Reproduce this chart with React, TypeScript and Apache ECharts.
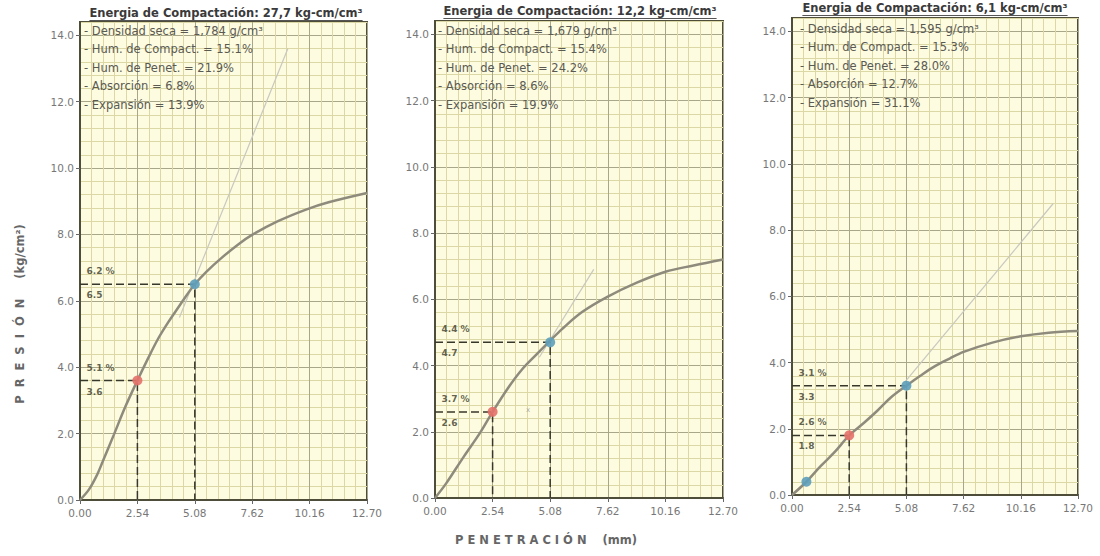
import React, { useEffect, useRef } from "react";
import * as echarts from "echarts";

// ---------- data ----------
const X_TICKS = [0, 2.54, 5.08, 7.62, 10.16, 12.7];
const Y_TICKS = [0, 2, 4, 6, 8, 10, 12, 14];

const TITLES = [
  "Energia de Compactación: 27,7 kg-cm/cm³",
  "Energia de Compactación: 12,2 kg-cm/cm³",
  "Energia de Compactación: 6,1 kg-cm/cm³",
];
const DENSIDAD = ["1,784", "1,679", "1,595"];
const HUM_COMPACT = ["15.1", "15.4", "15.3"];
const HUM_PENET = ["21.9", "24.2", "28.0"];
const ABSORCION = ["6.8", "8.6", "12.7"];
const EXPANSION = ["13.9", "19.9", "31.1"];

const CURVE_1 = [
  [0, 0], [0.4, 0.32], [0.75, 0.75], [1.0, 1.15], [1.5, 1.97], [2.0, 2.8], [2.54, 3.6],
  [3.0, 4.25], [3.45, 4.85], [3.9, 5.35], [4.4, 5.85], [4.75, 6.2], [5.08, 6.5],
  [5.6, 6.88], [6.24, 7.28], [7.0, 7.7], [7.65, 8.0], [8.76, 8.4], [10.0, 8.75],
  [11.0, 8.97], [12.7, 9.25],
];
const CURVE_2 = [
  [0, 0], [0.5, 0.45], [1.27, 1.25], [2.0, 1.98], [2.54, 2.6], [3.2, 3.3], [3.8, 3.85],
  [4.5, 4.35], [5.08, 4.75], [5.6, 5.1], [6.5, 5.62], [7.62, 6.08], [8.9, 6.5],
  [10.16, 6.83], [11.4, 7.02], [12.7, 7.2],
];
const CURVE_3 = [
  [0, 0], [0.64, 0.4], [1.27, 0.87], [1.9, 1.3], [2.54, 1.8], [3.2, 2.18], [3.8, 2.55],
  [4.4, 2.95], [5.08, 3.3], [5.7, 3.6], [6.35, 3.89], [7.0, 4.12], [7.62, 4.32],
  [8.9, 4.6], [10.16, 4.79], [11.4, 4.9], [12.7, 4.95],
];
const CURVES = [CURVE_1, CURVE_2, CURVE_3];

const TANGENT_1 = [[4.4, 5.5], [9.2, 13.6]];
const TANGENT_2 = [[4.6, 4.25], [7.0, 6.9]];
const TANGENT_3 = [[5.0, 3.4], [11.6, 8.8]];
const TANGENTS = [TANGENT_1, TANGENT_2, TANGENT_3];

const PRES_254 = [3.6, 2.6, 1.8];
const PRES_508 = [6.5, 4.7, 3.3];
const CBR_254 = ["5.1", "3.7", "2.6"];
const CBR_508 = ["6.2", "4.4", "3.1"];
const EXTRA_BLUE_3 = [[0.64, 0.4]];
const STRAY_MARK_2 = [[4.1, 2.66]];

// ---------- styling / layout ----------
const FONT = '"DejaVu Sans", Verdana, sans-serif';
const GRIDS = [
  { left: 80, top: 22, width: 287, height: 478 },
  { left: 435, top: 21, width: 288, height: 477 },
  { left: 792, top: 18, width: 286, height: 477 },
];
const TITLE_POS = [
  { cx: 226, y: 13 },
  { cx: 580, y: 11 },
  { cx: 935, y: 8 },
];
const LEGEND_POS = [
  { x: 84, y: 31 },
  { x: 438, y: 31 },
  { x: 800, y: 29 },
];
const BG = "#fdfbe0";
const MAJOR = "#a8a78a";
const MINOR = "#dcd8a6";
const FRAME = "#4d4d3a";
const RED = "#e4716a";
const BLUE = "#5d9ebb";

export default function App() {
  const ref = useRef<HTMLDivElement>(null);

  useEffect(() => {
    if (!ref.current) return;
    const chart = echarts.init(ref.current, null, { renderer: "svg" });

    const canvas = document.createElement("canvas");
    const ctx = canvas.getContext("2d")!;
    const titleFont = `bold 11.5px ${FONT}`;
    ctx.font = titleFont;

    const xAxis: any[] = [];
    const yAxis: any[] = [];
    const series: any[] = [];
    const graphic: any[] = [];

    // primary axes: fine grid (0.508 mm / 0.4 kg/cm²)
    [0, 1, 2].forEach((i) => {
      xAxis.push({
        gridIndex: i,
        type: "value",
        min: 0,
        max: 12.7,
        interval: 0.508,
        axisLine: { show: true, onZero: false, lineStyle: { color: FRAME, width: 2 } },
        axisTick: { show: false },
        axisLabel: { show: false },
        splitLine: { show: true, lineStyle: { color: [MAJOR, MINOR, MINOR, MINOR, MINOR], width: 1 } },
      });
      yAxis.push({
        gridIndex: i,
        type: "value",
        min: 0,
        max: 14.4,
        interval: 0.4,
        axisLine: { show: true, onZero: false, lineStyle: { color: FRAME, width: 2 } },
        axisTick: { show: false },
        axisLabel: { show: false },
        splitLine: { show: true, lineStyle: { color: [MAJOR, MINOR, MINOR, MINOR, MINOR], width: 1 } },
      });
    });
    // secondary axes: labels and major ticks
    [0, 1, 2].forEach((i) => {
      xAxis.push({
        gridIndex: i,
        type: "value",
        position: "bottom",
        offset: 0,
        min: 0,
        max: 12.7,
        interval: 2.54,
        axisLine: { show: false, onZero: false },
        axisTick: { show: true, customValues: X_TICKS, length: 4, lineStyle: { color: "#666" } },
        axisLabel: {
          customValues: X_TICKS,
          formatter: (v: number) => v.toFixed(2),
          color: "#777",
          fontSize: 10.5,
          fontFamily: FONT,
          margin: 7,
        },
        splitLine: { show: false },
      });
      yAxis.push({
        gridIndex: i,
        type: "value",
        position: "left",
        offset: 0,
        min: 0,
        max: 14.4,
        interval: 2,
        axisLine: { show: false, onZero: false },
        axisTick: { show: true, customValues: Y_TICKS, length: 4, lineStyle: { color: "#666" } },
        axisLabel: {
          customValues: Y_TICKS,
          formatter: (v: number) => v.toFixed(1),
          color: "#777",
          fontSize: 10.5,
          fontFamily: FONT,
          margin: 6,
        },
        splitLine: { show: false },
      });
    });

    [0, 1, 2].forEach((i) => {
      series.push({
        type: "line",
        xAxisIndex: i,
        yAxisIndex: i,
        data: CURVES[i],
        smooth: 0.35,
        showSymbol: false,
        lineStyle: { color: "#8e8b7c", width: 2.5 },
        z: 4,
      });
      series.push({
        type: "line",
        xAxisIndex: i,
        yAxisIndex: i,
        data: TANGENTS[i],
        showSymbol: false,
        lineStyle: { color: "#c8c8be", width: 1.2 },
        z: 3,
      });
      series.push({
        type: "line",
        xAxisIndex: i,
        yAxisIndex: i,
        data: [[0, PRES_508[i]], [5.08, PRES_508[i]], [5.08, 0]],
        showSymbol: false,
        lineStyle: { color: "#38382a", width: 1.5, type: [8, 4] },
        z: 3,
      });
      series.push({
        type: "line",
        xAxisIndex: i,
        yAxisIndex: i,
        data: [[0, PRES_254[i]], [2.54, PRES_254[i]], [2.54, 0]],
        showSymbol: false,
        lineStyle: { color: "#38382a", width: 1.5, type: [8, 4] },
        z: 3,
      });
      series.push({
        type: "scatter",
        xAxisIndex: i,
        yAxisIndex: i,
        data: [[2.54, PRES_254[i]]],
        symbolSize: 10,
        itemStyle: { color: RED, opacity: 0.9 },
        z: 6,
      });
      series.push({
        type: "scatter",
        xAxisIndex: i,
        yAxisIndex: i,
        data: i === 2 ? [[5.08, PRES_508[i]], ...EXTRA_BLUE_3] : [[5.08, PRES_508[i]]],
        symbolSize: 10,
        itemStyle: { color: BLUE, opacity: 0.9 },
        z: 6,
      });
      const lab = (txt: string, dy: number) => ({
        show: true,
        formatter: txt,
        position: [7, dy],
        color: "#3a3a2a",
        fontSize: 9,
        fontWeight: "bold",
        fontFamily: FONT,
      });
      series.push({
        type: "scatter",
        xAxisIndex: i,
        yAxisIndex: i,
        symbolSize: 1,
        itemStyle: { color: "rgba(0,0,0,0)" },
        silent: true,
        z: 7,
        data: [
          { value: [0, PRES_508[i]], label: lab(`${CBR_508[i]} %`, -17) },
          { value: [0, PRES_508[i]], label: lab(PRES_508[i].toFixed(1), 7) },
          { value: [0, PRES_254[i]], label: lab(`${CBR_254[i]} %`, -17) },
          { value: [0, PRES_254[i]], label: lab(PRES_254[i].toFixed(1), 7) },
        ],
      });
      if (i === 1) {
        series.push({
          type: "scatter",
          xAxisIndex: i,
          yAxisIndex: i,
          symbolSize: 1,
          itemStyle: { color: "rgba(0,0,0,0)" },
          silent: true,
          data: STRAY_MARK_2,
          label: { show: true, formatter: "x", position: "inside", color: "#999", fontSize: 7, fontFamily: FONT },
        });
      }

      const t = TITLES[i];
      const w = ctx.measureText(t).width;
      const tp = TITLE_POS[i];
      graphic.push({
        type: "text",
        x: tp.cx,
        y: tp.y,
        z: 10,
        style: {
          text: t,
          fill: "#3a3a3a",
          font: titleFont,
          align: "center",
          verticalAlign: "middle",
          textAlign: "center",
          textVerticalAlign: "middle",
        },
      });
      graphic.push({
        type: "line",
        z: 10,
        shape: { x1: tp.cx - w / 2, y1: tp.y + 7.5, x2: tp.cx + w / 2, y2: tp.y + 7.5 },
        style: { stroke: "#555", lineWidth: 1 },
      });

      const lines = [
        `- Densidad seca = ${DENSIDAD[i]} g/cm³`,
        `- Hum. de Compact. = ${HUM_COMPACT[i]}%`,
        `- Hum. de Penet. = ${HUM_PENET[i]}%`,
        `- Absorción = ${ABSORCION[i]}%`,
        `- Expansión = ${EXPANSION[i]}%`,
      ];
      const lp = LEGEND_POS[i];
      lines.forEach((s, k) => {
        graphic.push({
          type: "text",
          x: lp.x,
          y: lp.y + k * 18.4,
          z: 10,
          style: {
            text: s,
            fill: "#5a5a52",
            font: `11.5px ${FONT}`,
            align: "left",
            verticalAlign: "middle",
            textAlign: "left",
            textVerticalAlign: "middle",
          },
        });
      });
    });

    graphic.push({
      type: "text",
      x: 20,
      y: 314,
      rotation: Math.PI / 2,
      z: 10,
      style: {
        text: "P  R  E  S  I  Ó  N     (kg/cm²)",
        fill: "#666",
        font: `bold 11.5px ${FONT}`,
        align: "center",
        verticalAlign: "middle",
        textAlign: "center",
        textVerticalAlign: "middle",
      },
    });
    graphic.push({
      type: "text",
      x: 546,
      y: 540,
      z: 10,
      style: {
        text: "P E N E T R A C I Ó N    (mm)",
        fill: "#666",
        font: `bold 11.5px ${FONT}`,
        align: "center",
        verticalAlign: "middle",
        textAlign: "center",
        textVerticalAlign: "middle",
      },
    });

    chart.setOption({
      animation: false,
      backgroundColor: "#ffffff",
      grid: GRIDS.map((g) => ({
        ...g,
        show: true,
        backgroundColor: BG,
        borderColor: FRAME,
        borderWidth: 2,
      })),
      xAxis,
      yAxis,
      series,
      graphic,
    });

    return () => chart.dispose();
  }, []);

  return (
    <div
      ref={ref}
      style={{ position: "fixed", left: 0, top: 0, width: 1100, height: 556, background: "#fff" }}
    />
  );
}
